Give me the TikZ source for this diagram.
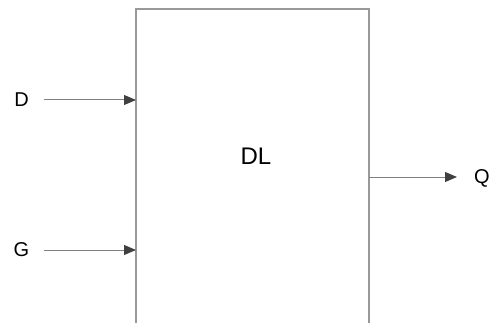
\documentclass[tikz,border=0pt]{standalone}
\usepackage{fontspec}
\setmainfont{Liberation Sans}
\usetikzlibrary{arrows.meta}

\begin{document}
\begin{tikzpicture}[x=1pt,y=-1pt,
        pin/.style={draw=black!50,line width=1pt,-{Triangle[length=12pt,width=10pt,color=black!75]}},
        lbl/.style={inner sep=0pt,font=\fontsize{20}{20}\selectfont}]
        \useasboundingbox (0,0) rectangle (494,323);
        \node[draw=black!40,line width=1.2pt,minimum width=233pt,minimum height=340pt,inner sep=0pt] (dl) at (252.5,179) {};
        \node[lbl,font=\fontsize{24}{24}\selectfont] (dltext) at (256,156) {DL};
        \node[lbl] (d) at (21.5,100) {D};
        \node[lbl] (g) at (21.5,250) {G};
        \node[lbl] (q) at (482,178) {Q};
        \coordinate (din) at (136,100);
        \coordinate (gin) at (136,250);
        \coordinate (dout) at (44,100);
        \coordinate (gout) at (44,250);
        \coordinate (qout) at (369,177);
        \coordinate (qend) at (457,177);
        \draw[pin] (dout) -- (din);
        \draw[pin] (gout) -- (gin);
        \draw[pin] (qout) -- (qend);
    \end{tikzpicture}
\end{document}
